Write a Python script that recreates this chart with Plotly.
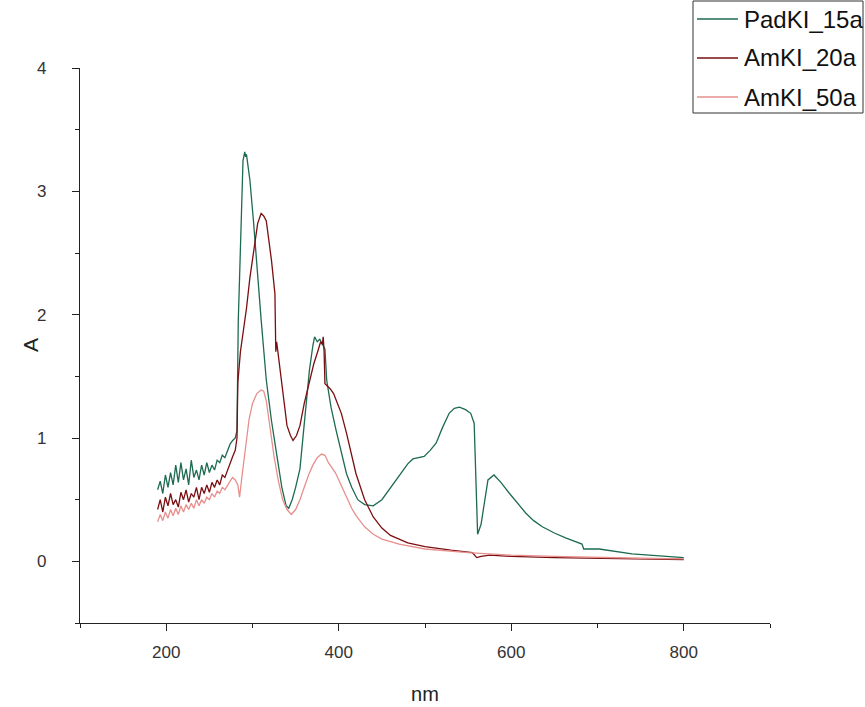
import plotly.graph_objects as go

# ---------------- data ----------------
noise_nm = [190, 193, 196, 199, 202, 205, 208, 211, 214, 217, 220, 223, 226, 229, 232,
            235, 238, 241, 244, 247, 250, 253, 256, 259, 262, 265, 268, 271, 274, 277]

pad15_noise = [0.58, 0.65, 0.55, 0.70, 0.60, 0.72, 0.62, 0.78, 0.64, 0.80, 0.66, 0.75, 0.62, 0.82, 0.68,
               0.74, 0.66, 0.78, 0.70, 0.80, 0.72, 0.78, 0.74, 0.82, 0.80, 0.86, 0.84, 0.90, 0.95, 0.98]
am20_noise = [0.42, 0.50, 0.40, 0.52, 0.45, 0.55, 0.46, 0.50, 0.44, 0.56, 0.50, 0.58, 0.48, 0.55, 0.52,
              0.60, 0.50, 0.60, 0.55, 0.62, 0.56, 0.64, 0.60, 0.66, 0.62, 0.70, 0.68, 0.74, 0.80, 0.85]
am50_noise = [0.32, 0.38, 0.33, 0.40, 0.35, 0.42, 0.37, 0.43, 0.38, 0.45, 0.40, 0.46, 0.42, 0.47, 0.43,
              0.50, 0.45, 0.50, 0.47, 0.52, 0.50, 0.55, 0.52, 0.57, 0.55, 0.60, 0.58, 0.62, 0.65, 0.68]

pad15_nm = [280, 282, 283.5, 285, 287, 289, 291, 292, 293, 295, 297, 301, 305, 310, 316, 322, 328,
            334, 339, 342, 346, 350, 355, 360, 366, 370, 372, 375, 378, 381, 384, 386, 391, 397,
            403, 409, 415, 422, 430, 440, 450, 460, 470, 480, 486, 499, 506, 513, 520, 528, 534,
            540, 547, 553, 557, 559, 561, 565, 569, 573, 580, 588, 598, 607, 617, 626, 636, 650,
            663, 682, 684, 702, 720, 740, 760, 779, 800]
pad15_A = [1.00, 1.06, 1.95, 2.30, 2.82, 3.25, 3.32, 3.28, 3.30, 3.20, 3.09, 2.77, 2.39, 1.96, 1.47, 1.14, 0.87,
           0.60, 0.45, 0.43, 0.50, 0.60, 0.75, 1.10, 1.55, 1.75, 1.82, 1.78, 1.80, 1.76, 1.72, 1.47, 1.25, 1.06,
           0.88, 0.71, 0.60, 0.50, 0.46, 0.45, 0.50, 0.60, 0.70, 0.79, 0.83, 0.85, 0.90, 0.96, 1.08, 1.20, 1.24,
           1.25, 1.23, 1.20, 1.12, 0.60, 0.22, 0.30, 0.50, 0.66, 0.70, 0.64, 0.55, 0.47, 0.39, 0.33, 0.28, 0.23,
           0.19, 0.14, 0.10, 0.10, 0.08, 0.06, 0.05, 0.04, 0.03]

am20_nm = [280, 282, 283, 286, 290, 293, 297, 301, 306, 310, 313, 316, 319, 322, 326, 327, 328, 329,
           331, 334, 337, 340, 344, 347, 351, 355, 360, 366, 371, 376, 379, 381, 382, 383, 384, 387,
           390, 394, 397, 403, 409, 415, 420, 430, 440, 450, 460, 480, 500, 530, 555, 560, 565, 575,
           600, 650, 700, 750, 800]
am20_A = [0.90, 1.00, 1.45, 1.70, 1.90, 2.05, 2.30, 2.50, 2.74, 2.82, 2.80, 2.76, 2.62, 2.44, 2.17, 1.70, 1.78, 1.72,
          1.60, 1.47, 1.25, 1.10, 1.02, 0.98, 1.02, 1.10, 1.28, 1.47, 1.60, 1.71, 1.78, 1.76, 1.82, 1.70, 1.44, 1.42,
          1.40, 1.36, 1.31, 1.20, 1.04, 0.86, 0.71, 0.50, 0.36, 0.27, 0.21, 0.15, 0.12, 0.09, 0.07, 0.03, 0.04, 0.05,
          0.04, 0.03, 0.025, 0.02, 0.015]

am50_nm = [280, 283, 285, 288, 292, 296, 300, 305, 310, 313, 316, 320, 325, 330, 335, 340, 345, 350,
           355, 360, 365, 370, 375, 380, 384, 388, 392, 396, 400, 405, 410, 415, 420, 430, 440, 450,
           470, 500, 550, 600, 650, 700, 750, 800]
am50_A = [0.66, 0.62, 0.52, 0.70, 0.95, 1.15, 1.28, 1.36, 1.39, 1.38, 1.30, 1.10, 0.85, 0.65, 0.50, 0.42, 0.38, 0.42,
          0.50, 0.60, 0.70, 0.78, 0.84, 0.87, 0.86, 0.80, 0.76, 0.72, 0.66, 0.58, 0.50, 0.43, 0.37, 0.28, 0.22, 0.18,
          0.14, 0.10, 0.07, 0.05, 0.04, 0.03, 0.025, 0.02]

series_names = ["PadKI_15a", "AmKI_20a", "AmKI_50a"]
series_colors = ["#1d6b50", "#7a0e10", "#e6908d"]

x_ticks = [200, 400, 600, 800]
y_ticks = [0, 1, 2, 3, 4]

# ---------------- figure ----------------
FONT = "Liberation Sans, Arial, sans-serif"
W, H = 865, 707
ML, MR, MT, MB = 80, 95, 68, 84
PW, PH = W - ML - MR, H - MT - MB


def px_to_paper(sx, sy):
    """page pixel -> paper coordinates"""
    return (sx - ML) / PW, (H - MB - sy) / PH


fig = go.Figure()
all_x = [noise_nm + pad15_nm, noise_nm + am20_nm, noise_nm + am50_nm]
all_y = [pad15_noise + pad15_A, am20_noise + am20_A, am50_noise + am50_A]
for name, col, xs, ys in zip(series_names, series_colors, all_x, all_y):
    fig.add_trace(go.Scatter(x=xs, y=ys, mode="lines", name=name, showlegend=False,
                             line=dict(color=col, width=1.3)))

axis_common = dict(showgrid=False, zeroline=False, showline=True, linecolor="#222",
                   linewidth=1.3, ticks="outside", ticklen=7, tickwidth=1.2, tickcolor="#222",
                   tickfont=dict(family=FONT, size=17, color="#333"), mirror=False)
fig.update_xaxes(range=[100, 900], tickvals=x_ticks, ticklabelstandoff=6,
                 minor=dict(dtick=100, ticks="outside", ticklen=4, tickwidth=1.2, tickcolor="#222"),
                 title=dict(text="nm", font=dict(family=FONT, size=20, color="#222"), standoff=26),
                 **axis_common)
fig.update_yaxes(range=[-0.5, 4], tickvals=y_ticks, ticklabelstandoff=22,
                 minor=dict(dtick=0.5, ticks="outside", ticklen=4, tickwidth=1.2, tickcolor="#222"),
                 **axis_common)

annotations = []
ax_, ay_ = px_to_paper(30, 345)
annotations.append(dict(x=ax_, y=ay_, xref="paper", yref="paper", text="A", showarrow=False,
                        textangle=-90, xanchor="center", yanchor="middle",
                        font=dict(family=FONT, size=21, color="#222")))

# ---- legend drawn as a framed box (Origin style) ----
x0, y0 = px_to_paper(693, 1)
x1, y1 = px_to_paper(863, 113)
shapes = [dict(type="rect", xref="paper", yref="paper", x0=x0, y0=y1, x1=x1, y1=y0,
               line=dict(color="#333", width=1), fillcolor="white", layer="above")]
row_y = [19, 58, 97]
for name, col, ry in zip(series_names, series_colors, row_y):
    lx0, ly = px_to_paper(697, ry)
    lx1, _ = px_to_paper(738, ry)
    shapes.append(dict(type="line", xref="paper", yref="paper", x0=lx0, x1=lx1, y0=ly, y1=ly,
                       line=dict(color=col, width=1.3), layer="above"))
    tx, _ = px_to_paper(742, ry)
    annotations.append(dict(x=tx, y=ly, xref="paper", yref="paper", text=name, showarrow=False,
                            xanchor="left", yanchor="middle",
                            font=dict(family=FONT, size=24, color="#111")))

fig.update_layout(
    width=W, height=H,
    margin=dict(l=ML, r=MR, t=MT, b=MB, autoexpand=False),
    plot_bgcolor="white", paper_bgcolor="white",
    showlegend=False,
    shapes=shapes, annotations=annotations,
)

fig.write_html("out.html",
               config={"displayModeBar": False},
               post_script="document.body.style.margin='0px';"
                           "document.body.style.overflow='hidden';"
                           "document.documentElement.style.overflow='hidden';")
